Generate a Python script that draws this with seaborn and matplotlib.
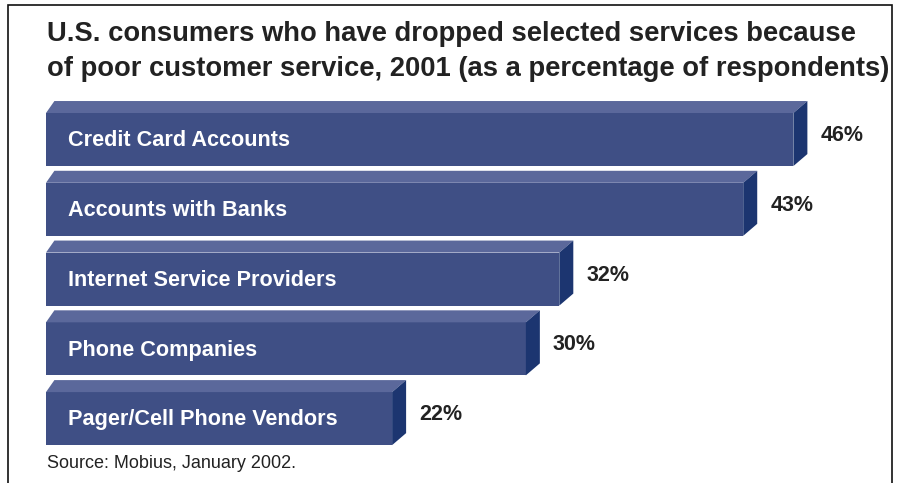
import matplotlib
matplotlib.use("Agg")
import matplotlib.pyplot as plt
from matplotlib.patches import Polygon, Rectangle
import seaborn as sns
import pandas as pd

services = ["Credit Card Accounts", "Accounts with Banks", "Internet Service Providers",
            "Phone Companies", "Pager/Cell Phone Vendors"]
percent = [46, 43, 32, 30, 22]
value_labels = ["46%", "43%", "32%", "30%", "22%"]

front_col = "#3f4f85"
top_col = "#5b689b"
side_col = "#1c3570"

sns.set_theme(style="white")
plt.rcParams["font.family"] = ["Liberation Sans", "DejaVu Sans"]

W, H = 899, 483
fig = plt.figure(figsize=(W / 100, H / 100), dpi=100)
fig.patch.set_facecolor("white")

# axes placed in pixels: left 46, right 893, top 90, bottom 450
ax = fig.add_axes([46 / W, 1 - 450 / H, (893 - 46) / W, (450 - 90) / H])
df = pd.DataFrame({"service": services, "pct": percent})
sns.barplot(data=df, x="pct", y="service", orient="h", color=front_col,
            saturation=1, width=0.76, ax=ax, linewidth=0)

xl = 1.3
xr = xl + (893 - 46) / 16.72
ax.set_xlim(xl, xr)
ax.set_ylim(4.45, -0.71)
ax.axis("off")

px_x = 16.72                     # pixels per percent
px_y = (450 - 90) / (4.45 + 0.71)  # pixels per category step
dx = 14 / px_x
dy = 12 / px_y

for p, lab, val in zip(ax.patches, services, value_labels):
    x0 = max(p.get_x(), xl)
    x1 = p.get_x() + p.get_width()
    yt = p.get_y()
    yb = p.get_y() + p.get_height()
    ax.add_patch(Polygon([(x0, yt), (x1, yt), (x1 + dx, yt - dy), (x0 + dx * 0.6, yt - dy)],
                         closed=True, facecolor=top_col, edgecolor="none"))
    ax.add_patch(Polygon([(x1, yt), (x1 + dx, yt - dy), (x1 + dx, yb - dy), (x1, yb)],
                         closed=True, facecolor=side_col, edgecolor="none"))
    yc = (yt + yb) / 2
    ax.text(xl + 22 / px_x, yc + 0.02, lab, color="white", fontsize=15.6,
            fontweight="bold", va="center", ha="left")
    ax.text(x1 + dx + 13 / px_x, yc - dy / 2 + 0.03, val, color="#222222",
            fontsize=15.5, fontweight="bold", va="center", ha="left")

fig.text(47 / W, 1 - 34 / H, "U.S. consumers who have dropped selected services because",
         fontsize=19.7, fontweight="bold", color="#222222", va="center", ha="left")
fig.text(47 / W, 1 - 69 / H, "of poor customer service, 2001 (as a percentage of respondents)",
         fontsize=19.7, fontweight="bold", color="#222222", va="center", ha="left")
fig.text(47 / W, 1 - 463 / H, "Source: Mobius, January 2002.", fontsize=13,
         color="#222222", va="center", ha="left")

# outer frame
fig.add_artist(Rectangle((8 / W, -0.05), (892 - 8) / W, 1.05 - 5 / H,
                         transform=fig.transFigure, fill=False, edgecolor="#111111",
                         linewidth=1.2, clip_on=False))

fig.savefig("out.png", dpi=100)
